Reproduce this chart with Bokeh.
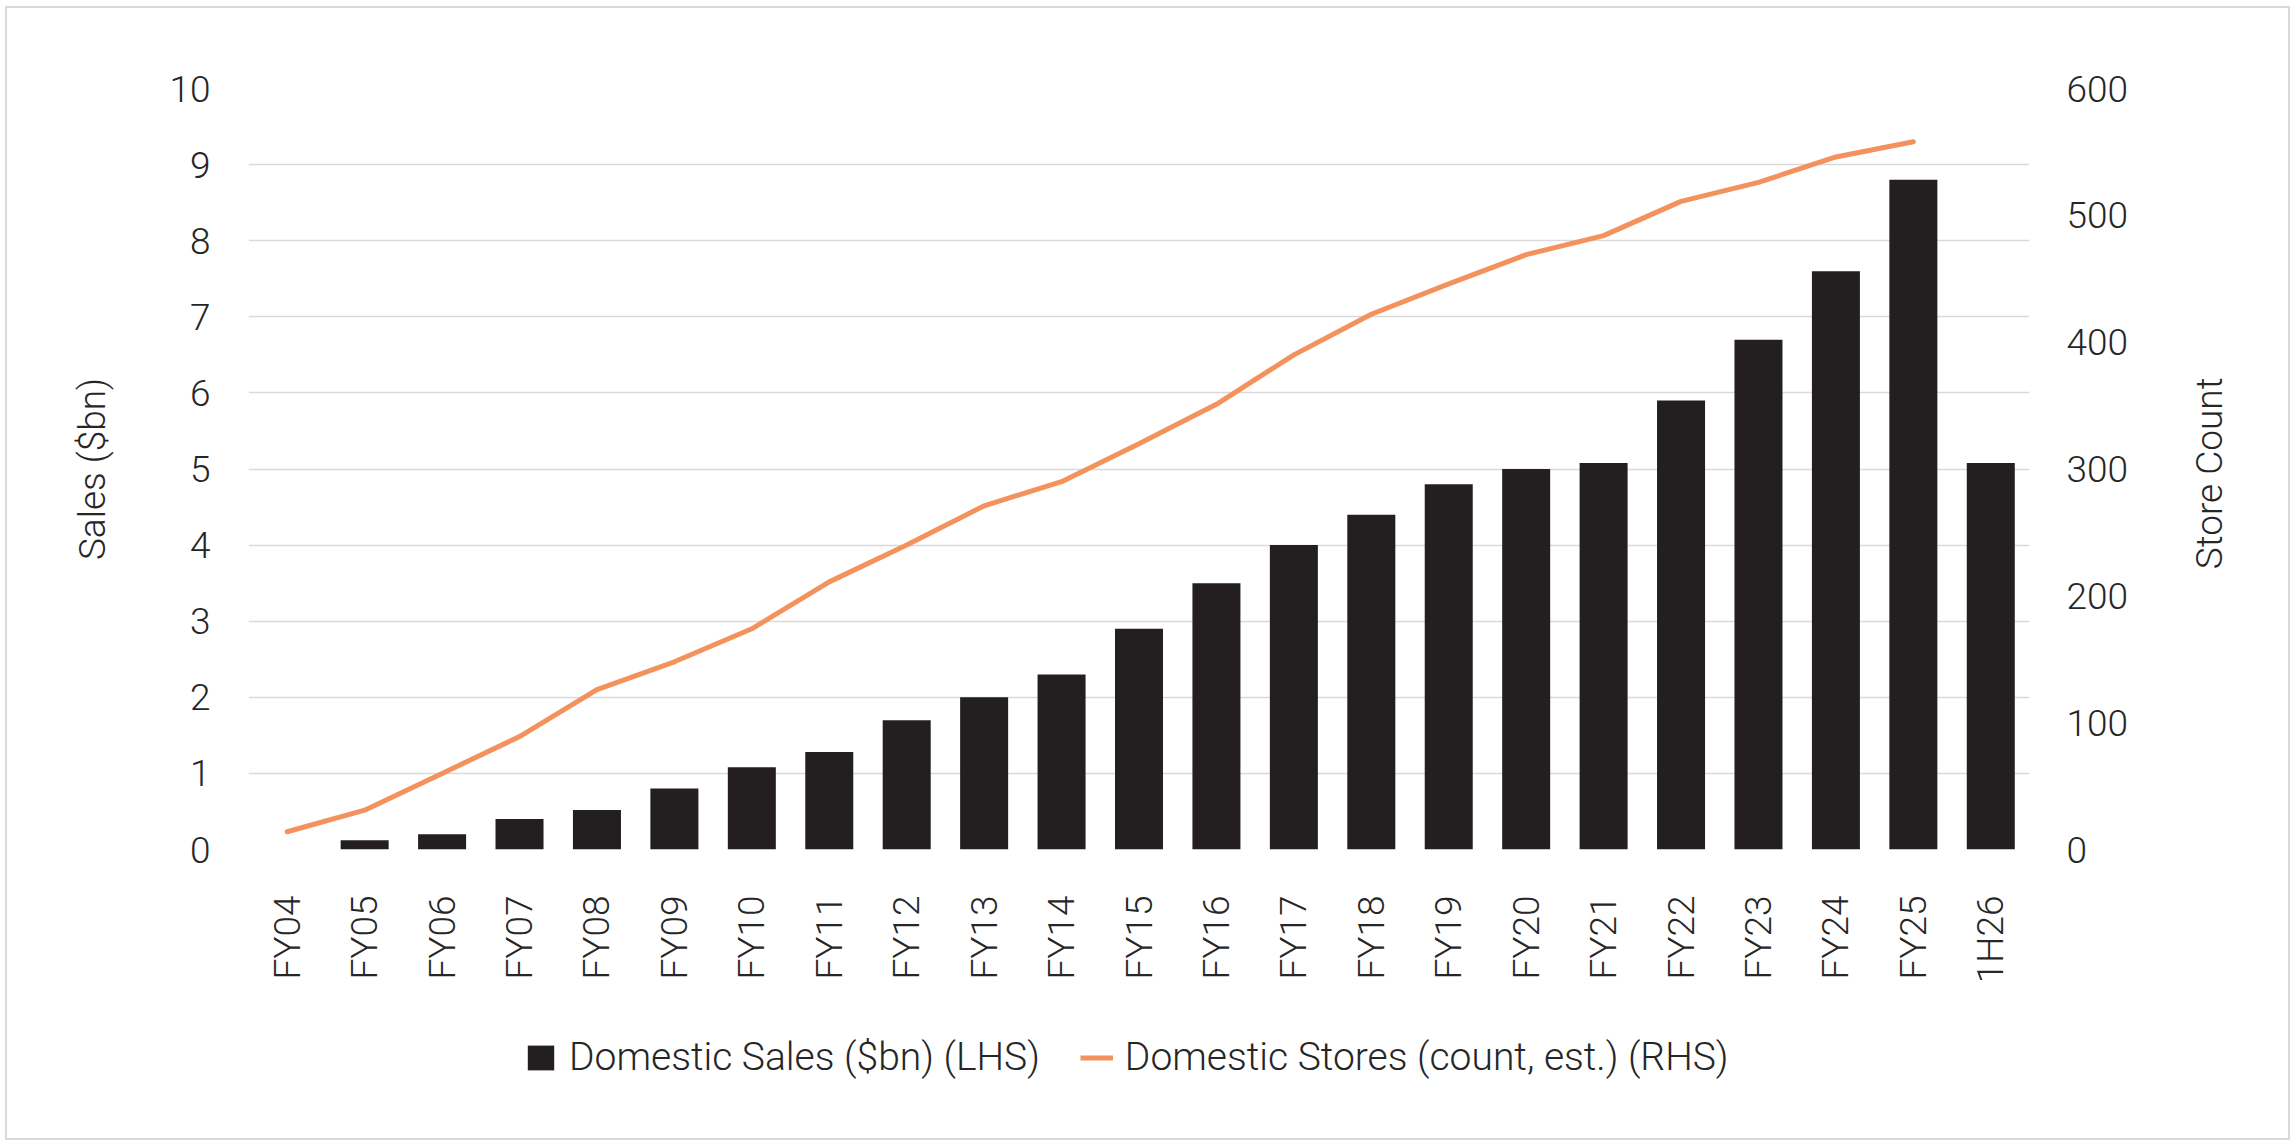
import math
from bokeh.plotting import figure
from bokeh.layouts import column
from bokeh.models import Range1d, LinearAxis, FixedTicker, Legend, LegendItem
from bokeh.embed import file_html
from bokeh.resources import INLINE

categories = ["FY04", "FY05", "FY06", "FY07", "FY08", "FY09", "FY10", "FY11", "FY12",
              "FY13", "FY14", "FY15", "FY16", "FY17", "FY18", "FY19", "FY20", "FY21",
              "FY22", "FY23", "FY24", "FY25", "1H26"]
sales_bn = [0.0, 0.12, 0.2, 0.4, 0.52, 0.8, 1.08, 1.28, 1.7, 2.0, 2.3, 2.9, 3.5, 4.0,
            4.4, 4.8, 5.0, 5.08, 5.9, 6.7, 7.6, 8.8, 5.08]
store_categories = categories[:-1]
store_count = [14, 31, 60, 89, 126, 148, 174, 211, 240, 271, 290, 320, 351, 390, 422,
               446, 469, 484, 511, 526, 546, 558]
left_ticks = [0, 1, 2, 3, 4, 5, 6, 7, 8, 9, 10]
right_ticks = [0, 100, 200, 300, 400, 500, 600]
left_title = "Sales ($bn)"
right_title = "Store Count"
legend_labels = ["Domestic Sales ($bn) (LHS)", "Domestic Stores (count, est.) (RHS)"]

FONT = "'Roboto Light', Roboto, sans-serif"
TXT = "#262626"
FS = "37px"
BAR = "#231F20"
ORANGE = "#F3925D"
RIGHT_TITLE_START = 221  # store-axis value where the bottom-to-top title begins

p = figure(x_range=categories, y_range=Range1d(0, 10), width=2281, height=992,
           output_backend="svg", toolbar_location=None,
           min_border_left=241, min_border_right=259, min_border_top=80, min_border_bottom=151)
p.outline_line_color = None
p.x_range.range_padding = 0
p.extra_y_ranges = {"stores": Range1d(0, 600)}

bars = p.vbar(x=categories, top=sales_bn, width=0.62, fill_color=BAR, line_color=None)
line = p.line(x=store_categories, y=store_count, y_range_name="stores",
              line_color=ORANGE, line_width=5, line_cap="round", line_join="round")

ya = p.yaxis[0]
ya.ticker = FixedTicker(ticks=left_ticks)
ya.axis_label = left_title
ya.major_label_standoff = 38
ya.axis_label_standoff = 52

ra = LinearAxis(y_range_name="stores", ticker=FixedTicker(ticks=right_ticks))
ra.major_label_standoff = 37
p.add_layout(ra, "right")

# right-hand title, reading bottom-to-top like the reference
rt = LinearAxis(y_range_name="stores", ticker=FixedTicker(ticks=[RIGHT_TITLE_START]),
                major_label_overrides={RIGHT_TITLE_START: right_title})
rt.major_label_orientation = math.pi / 2
rt.major_label_standoff = 78
p.add_layout(rt, "right")

xa = p.xaxis[0]
xa.major_label_orientation = math.pi / 2
xa.major_label_standoff = 46

for ax in [ya, ra, rt, xa]:
    ax.axis_line_color = None
    ax.major_tick_line_color = None
    ax.minor_tick_line_color = None
    ax.major_tick_out = 0
    ax.major_label_text_font = FONT
    ax.major_label_text_font_size = FS
    ax.major_label_text_color = TXT
    ax.axis_label_text_font = FONT
    ax.axis_label_text_font_size = FS
    ax.axis_label_text_font_style = "normal"
    ax.axis_label_text_color = TXT

p.xgrid.grid_line_color = None
p.ygrid.grid_line_color = "#d9d9d9"
p.ygrid.grid_line_width = 1.5
p.ygrid.ticker = FixedTicker(ticks=left_ticks)

# legend strip (separate figure below the chart so the legend is not clipped)
lf = figure(width=2281, height=138, x_range=Range1d(0, 1), y_range=Range1d(0, 1),
            output_backend="svg", toolbar_location=None, x_axis_type=None, y_axis_type=None,
            min_border=0)
lf.outline_line_color = None
lf.xgrid.grid_line_color = None
lf.ygrid.grid_line_color = None
lbar = lf.vbar(x=[float("nan")], top=[float("nan")], width=0.1, fill_color=BAR, line_color=None)
lline = lf.line(x=[float("nan")], y=[float("nan")], line_color=ORANGE, line_width=5)

legend = Legend(items=[LegendItem(label=legend_labels[0], renderers=[lbar]),
                       LegendItem(label=legend_labels[1], renderers=[lline])],
                orientation="horizontal", location=(276, 58))
legend.border_line_color = None
legend.background_fill_alpha = 0
legend.padding = 0
legend.margin = 0
legend.spacing = 40
legend.glyph_width = 33
legend.glyph_height = 31
legend.label_standoff = 12
legend.label_text_font = FONT
legend.label_text_font_size = "39px"
legend.label_text_color = TXT
lf.add_layout(legend, "center")

layout = column(p, lf, spacing=0)
layout.styles = {"border": "2px solid #d9d9d9", "margin-left": "5px", "margin-top": "6px"}

open("out.html", "w").write(file_html(layout, INLINE))
